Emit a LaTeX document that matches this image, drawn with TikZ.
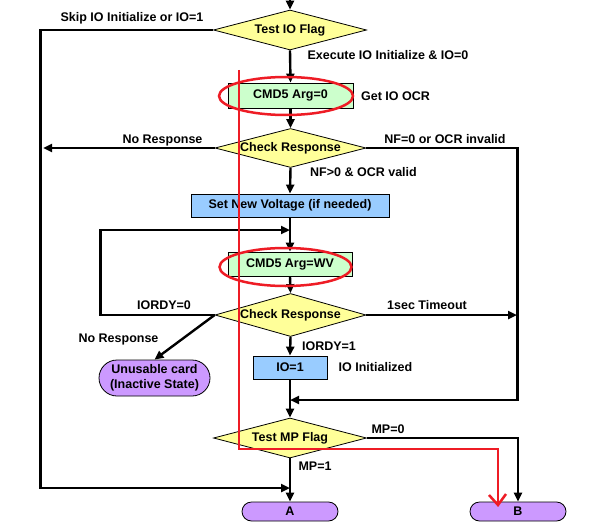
\documentclass[tikz,border=0pt]{standalone}
\usepackage{fontspec}
\setmainfont{Liberation Sans}
\usetikzlibrary{arrows.meta,shapes.geometric}
\definecolor{ydia}{HTML}{FFFF99}
\definecolor{gbox}{HTML}{CCFFCC}
\definecolor{bbox}{HTML}{99CCFF}
\definecolor{pterm}{HTML}{CC99FF}
\definecolor{redmark}{HTML}{EE1C25}
\begin{document}
\begin{tikzpicture}[x=1pt,y=-1pt,
  font=\bfseries\fontsize{12.5}{15}\selectfont,
  dia/.style={shape=diamond,draw=black,line width=0.8pt,fill=ydia,inner sep=0pt},
  gb/.style={rectangle,draw=black,line width=0.8pt,fill=gbox,inner sep=1pt},
  bb/.style={rectangle,draw=black,line width=0.8pt,fill=bbox,inner sep=1pt},
  term/.style={rectangle,draw=black,line width=0.8pt,fill=pterm,inner sep=1pt,align=center},
  conn/.style={line width=2.4pt,-{Triangle[length=9pt,width=8pt]}},
  lbl/.style={inner sep=0pt},
  redl/.style={draw=redmark,line width=2.5pt}]
\useasboundingbox (0,0) rectangle (599,532);
\fill[white] (0,0) rectangle (599,532);

% nodes
\node[dia,minimum width=153pt,minimum height=40pt] (tio) at (290,30) {\makebox[0pt]{Test IO Flag}};
\node[gb,minimum width=125pt,minimum height=25pt] (c0) at (290.5,95.5) {CMD5 Arg=0};
\node[dia,minimum width=151pt,minimum height=39pt] (ch1) at (290.5,148) {\makebox[0pt]{Check Response}};
\node[bb,minimum width=198pt,minimum height=23pt] (sv) at (290,205.5) {Set New Voltage (if needed)};
\node[gb,minimum width=124pt,minimum height=24pt] (cwv) at (290,264) {CMD5 Arg=WV};
\node[dia,minimum width=151pt,minimum height=43pt] (ch2) at (290.5,315) {\makebox[0pt]{Check Response}};
\node[term,rounded corners=18pt,minimum width=111pt,minimum height=36pt] (un) at (154.5,378) {Unusable card\\(Inactive State)};
\node[bb,minimum width=74pt,minimum height=23pt] (io1) at (290,367.5) {IO=1};
\node[dia,minimum width=153pt,minimum height=40pt] (tmp) at (290,438) {\makebox[0pt]{Test MP Flag}};
\node[term,rounded corners=9.5pt,minimum width=96pt,minimum height=19pt] (A) at (290,511.5) {A};
\node[term,rounded corners=9.5pt,minimum width=96pt,minimum height=19pt] (B) at (518,511.5) {B};

% coordinates
\coordinate (top) at (290,0);
\coordinate (loopj) at (290,230);
\coordinate (j2) at (290,400);
\coordinate (j3) at (290,488);
\coordinate (nr) at (43,148);
\coordinate (rj) at (517,315);

% connectors
\draw[conn] (top) -- (tio.north);
\draw[conn] (tio.south) -- (c0.north);
\draw[conn] (c0.south) -- (ch1.north);
\draw[conn] (ch1.south) -- (sv.north);
\draw[conn] (sv.south) -- (cwv.north);
\draw[conn] (cwv.south) -- (ch2.north);
\draw[conn] (ch2.south) -- (io1.north);
\draw[conn] (io1.south) -- (tmp.north);
\draw[conn] (tmp.south) -- (A.north);
\draw[conn] (tmp.east) -| (B.north);
\draw[conn] (ch2.west) -- (un.north);
\draw[conn] (ch1.west) -- (nr);
\draw[conn] (ch1.east) -- ++(151,0) |- (j2);
\draw[conn] (ch2.east) -- (rj);
\draw[conn] (ch2.west) -- ++(-114,0) |- (loopj);
\draw[conn] (tio.west) -- ++(-172.5,0) |- (j3);

% labels
\node[lbl] (l1) at (132,18.5) {Skip IO Initialize or IO=1};
\node[lbl] (l2) at (388,55.5) {Execute IO Initialize \& IO=0};
\node[lbl] (l3) at (395.5,96) {Get IO OCR};
\node[lbl] (l4) at (162.5,140) {No Response};
\node[lbl] (l5) at (445,139.5) {NF=0 or OCR invalid};
\node[lbl] (l6) at (363.5,172.5) {NF>0 \& OCR valid};
\node[lbl] (l7) at (164,305.5) {IORDY=0};
\node[lbl] (l8) at (427,305.5) {1sec Timeout};
\node[lbl] (l9) at (118.5,339) {No Response};
\node[lbl] (l10) at (329,346.5) {IORDY=1};
\node[lbl] (l11) at (375.5,367.5) {IO Initialized};
\node[lbl] (l12) at (388,429.5) {MP=0};
\node[lbl] (l13) at (315,466.5) {MP=1};

% red annotations
\draw[redl] (286,96) ellipse [x radius=67pt, y radius=19pt];
\draw[redl] (285.5,267) ellipse [x radius=66pt, y radius=19pt];
\draw[redl] (239,70) -- (239,449) -- (498,449) -- (498,505);
\draw[redl] (489,495) -- (498,505) -- (506,494);
\end{tikzpicture}
\end{document}
